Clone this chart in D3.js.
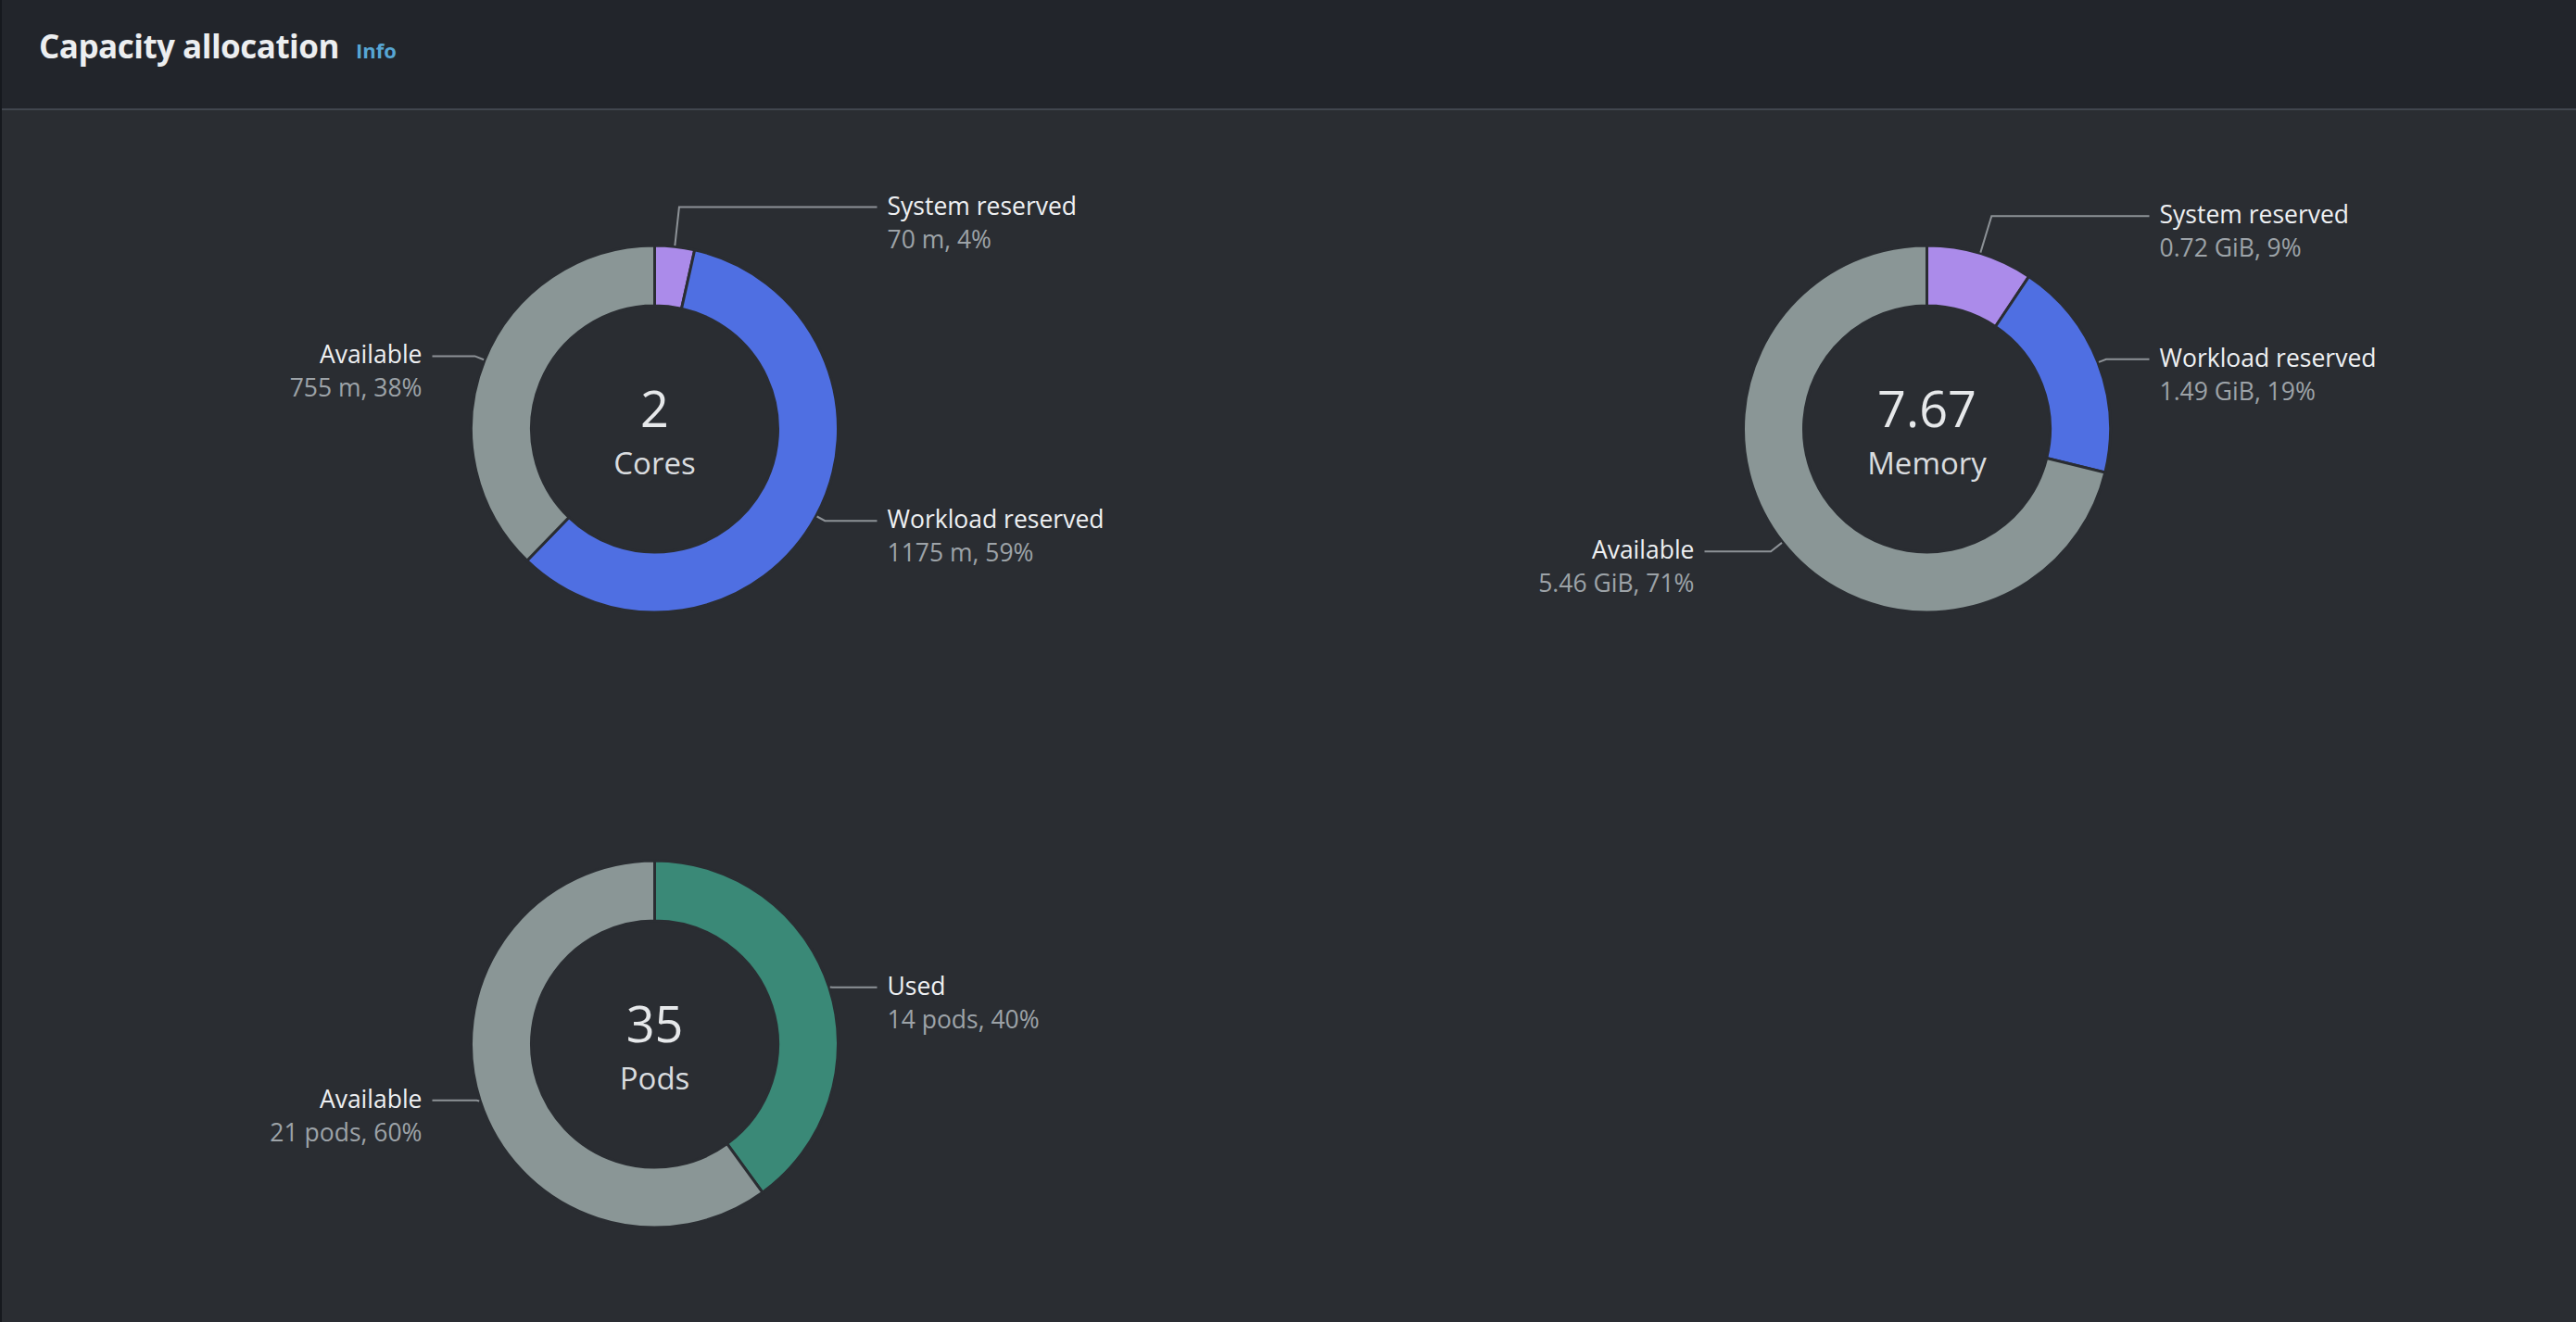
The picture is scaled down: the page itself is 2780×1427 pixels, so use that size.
<!DOCTYPE html>
<html>
<head>
<meta charset="utf-8">
<script src="https://cdn.jsdelivr.net/npm/d3@7"></script>
<style>
  html, body { margin: 0; padding: 0; background: #2a2d32; overflow: hidden; }
  svg { display: block; font-family: "Open Sans", "Noto Sans", sans-serif; }
</style>
</head>
<body>
<svg id="chart" width="2780" height="1427"></svg>
<script>
// ---------- data ----------
const chartTitle = "Capacity allocation";
const infoLink = "Info";

const centerValues = ["2", "7.67", "35"];
const centerTitles = ["Cores", "Memory", "Pods"];

const coresLabels = ["System reserved", "Workload reserved", "Available"];
const coresValues = [70, 1175, 755];
const coresUnit = "m";

const memoryLabels = ["System reserved", "Workload reserved", "Available"];
const memoryValues = [0.72, 1.49, 5.46];
const memoryUnit = "GiB";

const podsLabels = ["Used", "Available"];
const podsValues = [14, 21];
const podsUnit = "pods";

const reservedColors = ["#ab8bea", "#4f6fe2", "#8a9696"];
const podsColors = ["#3a8977", "#8a9696"];

// ---------- layout ----------
const W = 2780, H = 1427;
const svg = d3.select("#chart");
const bg = "#2a2d32";

svg.append("rect").attr("width", W).attr("height", H).attr("fill", bg);
svg.append("rect").attr("width", W).attr("height", 117).attr("fill", "#22252b");
svg.append("rect").attr("y", 117).attr("width", W).attr("height", 2).attr("fill", "#41464e");
svg.append("rect").attr("width", 2).attr("height", H).attr("fill", "#16191e");

const title = svg.append("text")
  .attr("x", 42).attr("y", 63)
  .attr("fill", "#eceef0").attr("font-weight", 700).attr("font-size", 35)
  .attr("letter-spacing", -0.5)
  .text(chartTitle);
const tb = title.node().getBBox();
svg.append("text")
  .attr("x", tb.x + tb.width + 18).attr("y", 63)
  .attr("fill", "#57a6d4").attr("font-weight", 700).attr("font-size", 22)
  .text(infoLink);

const cols = d3.scaleBand().domain([0, 1]).range([20, 2766]);
const rows = d3.scaleBand().domain([0, 1]).range([131, 1459]);

const outerR = 198, innerR = 133;
const arc = d3.arc().innerRadius(innerR).outerRadius(outerR);
const pie = d3.pie().sort(null).value(d => d.value).startAngle(0).endAngle(2 * Math.PI);

function fmt(v, unit, total) {
  return `${v} ${unit}, ${Math.round(v / total * 100)}%`;
}

function donut(col, row, labels, values, colors, unit, centerValue, centerTitle) {
  const cx = cols(col) + cols.bandwidth() / 2;
  const cy = rows(row) + rows.bandwidth() / 2;
  const total = d3.sum(values);
  const data = labels.map((l, i) => ({ label: l, value: values[i], color: colors[i] }));
  const g = svg.append("g").attr("transform", `translate(${cx},${cy})`);
  const arcs = pie(data);

  g.selectAll("path.slice").data(arcs).join("path")
    .attr("class", "slice")
    .attr("d", arc)
    .attr("fill", d => d.data.color)
    .attr("stroke", bg).attr("stroke-width", 3).attr("stroke-linejoin", "miter");

  // labels
  const lineX = 240, textX = 251;
  const items = arcs.map(d => {
    const mid = (d.startAngle + d.endAngle) / 2;
    const s = Math.sin(mid), c = Math.cos(mid);
    const upper = c >= 0;
    const R = upper ? 260 : 232, pull = upper ? 19 : 11;
    let dist = Math.abs(c) * R - pull;
    if (dist < 0) dist = 0;
    const ly = upper ? -dist : dist;
    return { d, mid, s, c, ly, right: s >= 0 };
  });
  // simple overlap resolution per side
  [true, false].forEach(side => {
    const list = items.filter(it => it.right === side).sort((a, b) => a.ly - b.ly);
    for (let i = 1; i < list.length; i++) {
      if (list[i].ly - list[i - 1].ly < 72) list[i].ly = list[i - 1].ly + 72;
    }
  });
  items.forEach(it => {
    const p1 = [(outerR + 1) * it.s, -(outerR + 1) * it.c];
    let r2 = Math.abs(it.c) > 1e-3 ? -it.ly / it.c : outerR + 6;
    if (!isFinite(r2) || r2 < outerR + 4) r2 = outerR + 4;
    if (r2 > outerR + 60) r2 = outerR + 60;
    const p2 = [r2 * it.s, it.ly];
    const ex = it.right ? lineX : -lineX;
    const p3 = [ex, it.ly];
    g.append("polyline")
      .attr("points", [p1, p2, p3].map(p => p.join(",")).join(" "))
      .attr("fill", "none").attr("stroke", "#8d9297").attr("stroke-width", 2);
    const tx = it.right ? textX : -textX;
    const anchor = it.right ? "start" : "end";
    g.append("text").attr("x", tx).attr("y", it.ly + 8)
      .attr("text-anchor", anchor).attr("font-size", 26.5).attr("fill", "#eef0f2")
      .text(it.d.data.label);
    g.append("text").attr("x", tx).attr("y", it.ly + 44)
      .attr("text-anchor", anchor).attr("font-size", 26.5).attr("fill", "#9da3a8")
      .text(fmt(it.d.data.value, unit, total));
  });

  g.append("text").attr("x", 0).attr("y", -2).attr("text-anchor", "middle")
    .attr("font-size", 54).attr("fill", "#e6e8ea").text(centerValue);
  g.append("text").attr("x", 0).attr("y", 49).attr("text-anchor", "middle")
    .attr("font-size", 33).attr("fill", "#d9dcdf").text(centerTitle);
}

donut(0, 0, coresLabels, coresValues, reservedColors, coresUnit, centerValues[0], centerTitles[0]);
donut(1, 0, memoryLabels, memoryValues, reservedColors, memoryUnit, centerValues[1], centerTitles[1]);
donut(0, 1, podsLabels, podsValues, podsColors, podsUnit, centerValues[2], centerTitles[2]);
</script>
</body>
</html>
